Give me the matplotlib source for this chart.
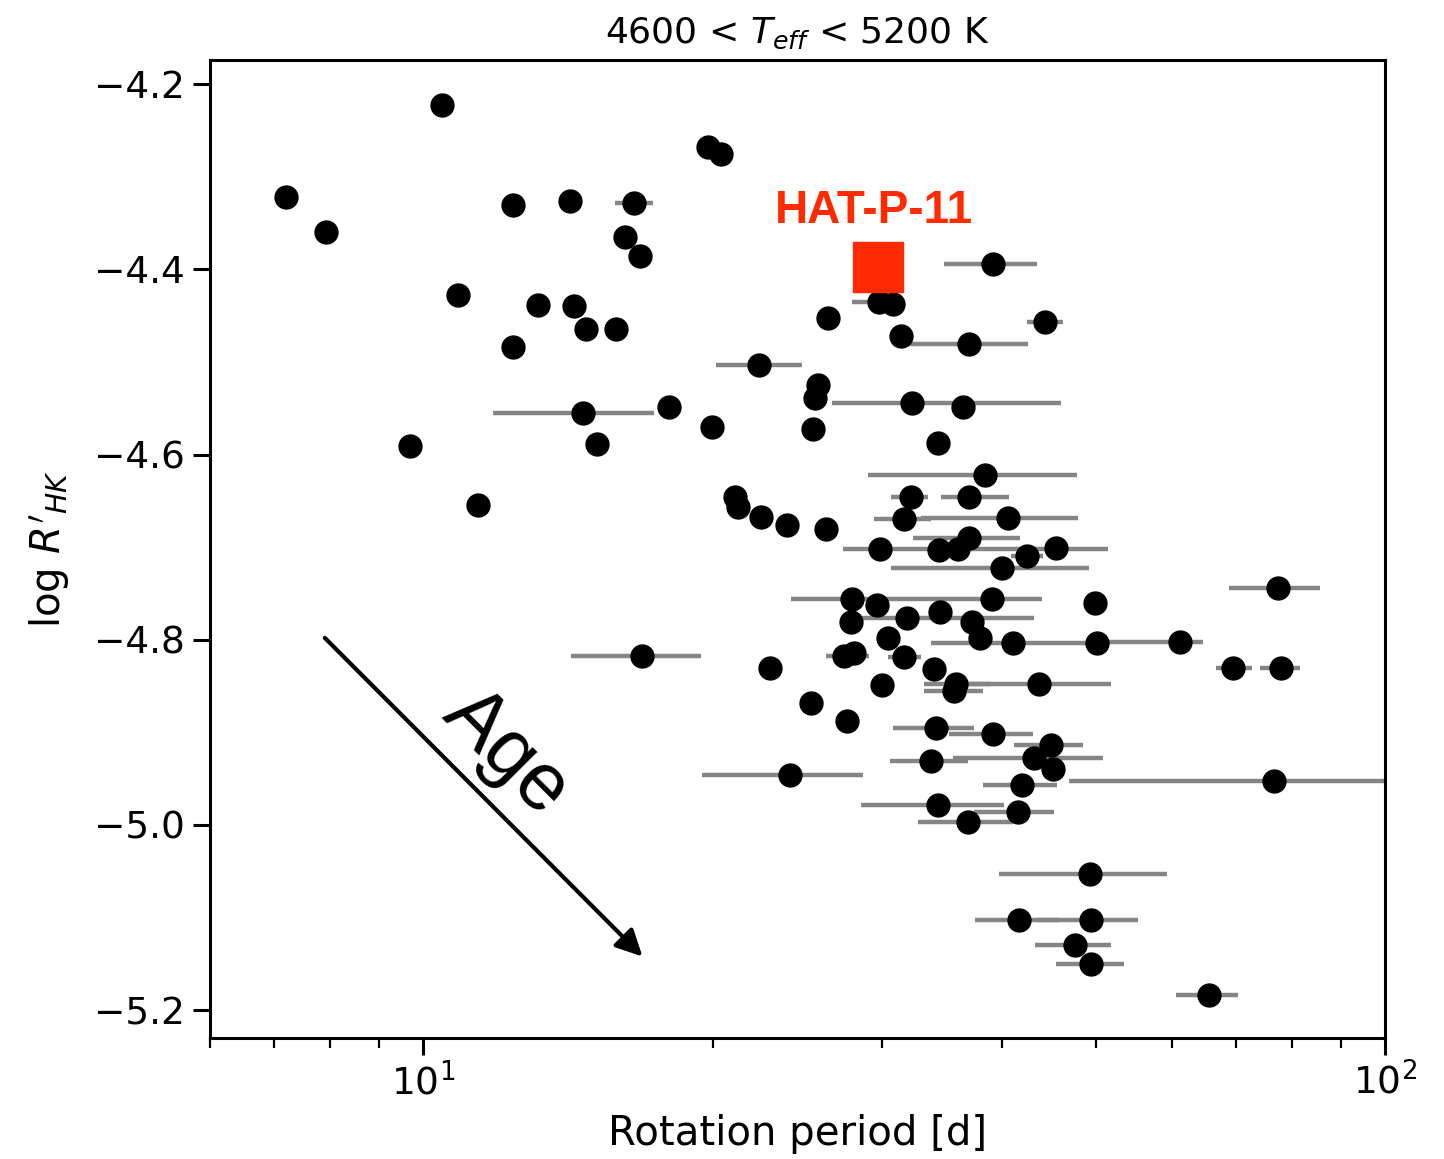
import numpy as np
import matplotlib
matplotlib.use("Agg")
import matplotlib.pyplot as plt
from matplotlib.ticker import LogLocator, NullFormatter, FixedLocator

# rotation period [d], log R'HK, and lower/upper period bounds of the error bars
# (bounds equal to the value mean no visible error bar)
period = [7.19, 7.93, 10.46, 10.87, 9.69, 11.40, 12.40, 12.40, 13.16, 14.21,
          14.35, 14.76, 14.66, 15.15, 15.85, 16.20, 16.55, 16.79, 16.87, 18.00,
          19.75, 20.38, 19.94, 21.07, 21.22, 22.47, 22.36, 23.90, 22.96, 24.08,
          25.39, 25.70, 25.57, 26.38, 26.25, 25.27, 27.60,
          39.11, 29.80, 30.81, 44.29, 31.40, 36.93, 32.25, 36.41, 34.30, 38.37,
          32.17, 36.93, 31.62, 40.54, 36.93, 29.87, 34.38, 35.97, 42.43, 45.48,
          39.99, 27.93, 29.65, 39.02, 49.90, 27.87, 31.87, 34.46, 37.20, 30.44,
          37.92, 41.03, 50.14, 61.13, 27.40, 28.06, 31.62, 33.97, 30.01, 35.81,
          35.64, 43.65, 34.13, 39.11, 44.94, 33.73, 43.14, 45.15, 41.93, 34.30,
          41.53, 36.85, 49.31, 41.63, 49.43, 47.59, 49.43, 65.54, 77.45, 69.56,
          78.00, 76.71]
logrhk = [-4.322, -4.360, -4.223, -4.428, -4.591, -4.655, -4.330, -4.484, -4.438, -4.326,
          -4.440, -4.464, -4.555, -4.589, -4.464, -4.365, -4.328, -4.386, -4.817, -4.549,
          -4.268, -4.275, -4.570, -4.646, -4.657, -4.667, -4.503, -4.676, -4.830, -4.946,
          -4.572, -4.525, -4.539, -4.453, -4.680, -4.868, -4.888,
          -4.394, -4.435, -4.437, -4.457, -4.472, -4.481, -4.544, -4.549, -4.588, -4.622,
          -4.646, -4.646, -4.670, -4.668, -4.690, -4.702, -4.703, -4.702, -4.709, -4.701,
          -4.722, -4.756, -4.762, -4.756, -4.760, -4.781, -4.777, -4.770, -4.781, -4.798,
          -4.798, -4.804, -4.803, -4.802, -4.817, -4.814, -4.819, -4.832, -4.849, -4.848,
          -4.855, -4.848, -4.895, -4.902, -4.914, -4.931, -4.928, -4.940, -4.957, -4.978,
          -4.986, -4.997, -5.053, -5.103, -5.103, -5.130, -5.150, -5.184, -4.744, -4.830,
          -4.831, -4.952]
period_lo = [7.19, 7.93, 10.46, 10.87, 9.69, 11.40, 12.40, 12.40, 13.16, 14.21,
             14.35, 14.76, 11.82, 15.15, 15.85, 16.20, 15.82, 16.79, 14.24, 18.00,
             19.75, 20.38, 19.94, 21.07, 21.22, 22.47, 20.14, 23.90, 22.96, 19.47,
             25.39, 25.70, 25.57, 26.38, 26.25, 25.27, 27.60,
             34.80, 27.93, 30.81, 42.43, 31.40, 31.94, 26.63, 36.41, 34.30, 29.02,
             30.66, 34.55, 29.44, 32.92, 32.32, 27.33, 34.38, 35.97, 40.83, 45.48,
             30.66, 24.14, 29.65, 34.30, 49.90, 27.87, 28.54, 34.46, 37.20, 30.44,
             37.92, 33.73, 50.14, 50.60, 26.25, 28.06, 30.44, 33.97, 30.01, 33.16,
             33.16, 36.06, 30.81, 35.22, 41.13, 30.59, 35.54, 45.15, 38.19, 28.54,
             37.38, 32.69, 39.68, 37.47, 43.55, 43.24, 45.48, 60.56, 68.74, 66.64,
             74.19, 46.92]
period_hi = [7.19, 7.93, 10.46, 10.87, 9.69, 11.40, 12.40, 12.40, 13.16, 14.21,
             14.35, 14.76, 17.37, 15.15, 15.85, 16.20, 17.33, 16.79, 19.43, 18.00,
             19.75, 20.38, 19.94, 21.07, 21.22, 22.47, 24.73, 23.90, 22.96, 28.68,
             25.39, 25.70, 25.57, 26.38, 26.25, 25.27, 27.60,
             43.45, 31.03, 30.81, 46.24, 31.40, 42.53, 46.02, 36.41, 34.30, 47.82,
             33.50, 40.63, 33.73, 47.93, 41.72, 51.47, 34.38, 35.97, 44.07, 45.48,
             49.19, 34.30, 29.65, 43.97, 49.90, 27.87, 43.14, 34.46, 37.20, 30.44,
             37.92, 50.63, 50.14, 64.60, 29.09, 28.06, 32.92, 33.97, 30.01, 38.93,
             38.20, 51.85, 37.38, 43.03, 48.51, 36.85, 50.87, 45.15, 45.58, 40.17,
             45.25, 41.03, 59.28, 45.70, 55.31, 51.85, 53.48, 70.40, 85.66, 72.78,
             81.63, 120.0]

hatp_period = 29.7
hatp_logrhk = -4.398

period = np.array(period)
logrhk = np.array(logrhk)
xerr = np.array([period - np.array(period_lo), np.array(period_hi) - period])

fig = plt.figure(figsize=(14.44, 11.59), dpi=100)
ax = fig.add_axes([0.1454, 0.1044, 0.8138, 0.8438])

ax.errorbar(period, logrhk, xerr=xerr, fmt='o', color='k', ms=16.5,
            ecolor='#858585', elinewidth=3.2, capsize=0)
ax.plot(hatp_period, hatp_logrhk, 's', color='#ff2a00', ms=36, zorder=5)
ax.text(29.44, -4.337, 'HAT-P-11', color='#ff2a00', fontsize=33,
        fontweight='bold', family='Liberation Sans', ha='center', va='center')

ax.annotate('', xy=(16.9, -5.142), xytext=(7.9, -4.798),
            arrowprops=dict(arrowstyle='-|>', lw=3, color='k', mutation_scale=40,
                            shrinkA=0, shrinkB=0))
ax.text(12.2, -4.922, 'Age', rotation=-45, fontsize=58, family='Liberation Sans',
        ha='center', va='center')

ax.set_xscale('log')
ax.set_xlim(6.0, 100)
ax.set_ylim(-5.23, -4.174)
ax.xaxis.set_major_locator(FixedLocator([10, 100]))
ax.set_xticklabels([r'$10^{1}$', r'$10^{2}$'])
ax.xaxis.set_minor_locator(LogLocator(base=10, subs=np.arange(2, 10)))
ax.xaxis.set_minor_formatter(NullFormatter())
ax.set_yticks([-4.2, -4.4, -4.6, -4.8, -5.0, -5.2])

ax.tick_params(which='major', length=12, width=2.2, labelsize=27, pad=6)
ax.tick_params(which='minor', length=7, width=1.6)
for s in ax.spines.values():
    s.set_linewidth(2.2)

ax.set_title(r'4600 < $T_{eff}$ < 5200 K', fontsize=26, pad=12)
ax.set_xlabel('Rotation period [d]', fontsize=29, labelpad=8)
ax.set_ylabel(r"log $R'_{HK}$", fontsize=29, labelpad=16)

fig.savefig('out.png', dpi=100)
